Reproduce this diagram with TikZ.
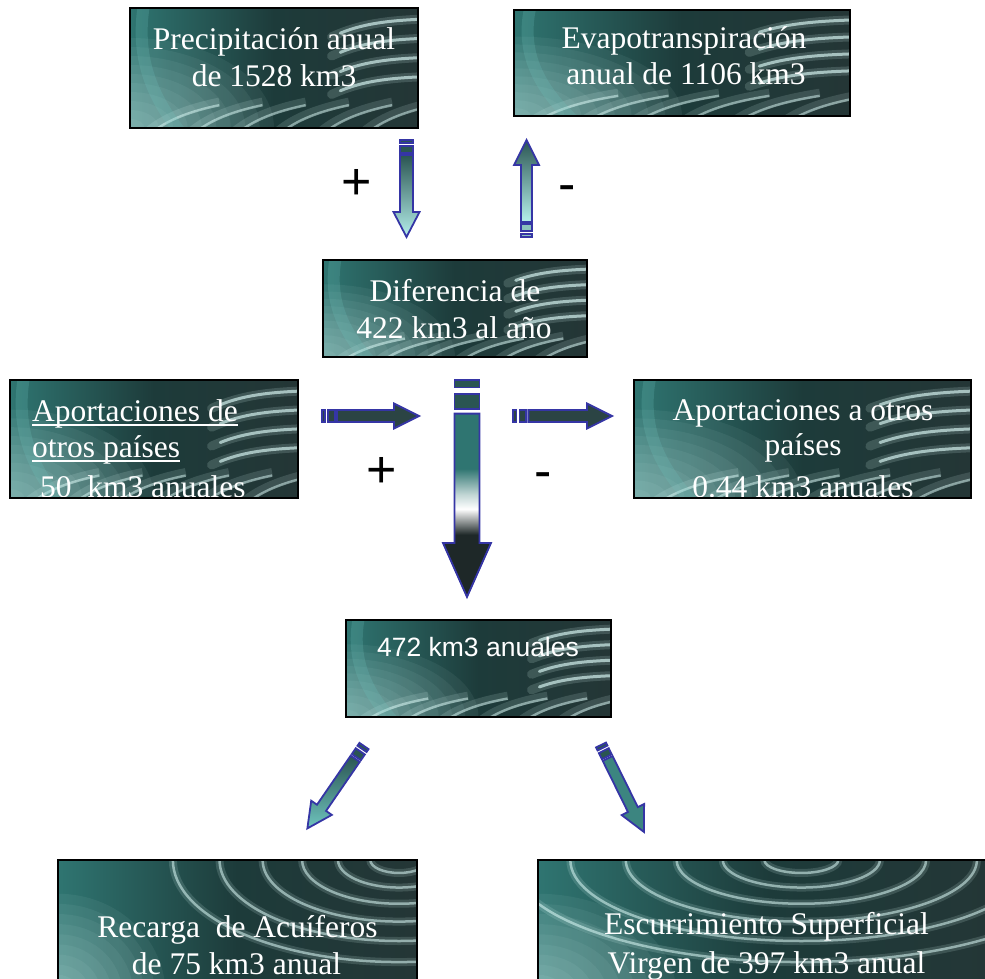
\documentclass[tikz,border=0pt]{standalone}
\usepackage{fontspec}
\newfontfamily\tnr{Liberation Serif}
\newfontfamily\arl{Liberation Sans}
\usetikzlibrary{fit}
\definecolor{tealA}{HTML}{2F7571}
\definecolor{darkA}{HTML}{1D3B3A}
\definecolor{darkB}{HTML}{243636}
\definecolor{darkX}{HTML}{1E2828}
\definecolor{streakc}{HTML}{DDFBF8}
\definecolor{tealL}{HTML}{6FC4BE}
\definecolor{arrblue}{HTML}{3535A5}
\definecolor{arrdark}{HTML}{2A5552}
\definecolor{arrdarkB}{HTML}{2B4444}
\definecolor{arrlight}{HTML}{B5F0EB}
\definecolor{arrmid}{HTML}{3C8580}
\pgfdeclarehorizontalshading{boxbg}{100bp}{color(0bp)=(tealA); color(25bp)=(tealA); color(50bp)=(darkA); color(75bp)=(darkB); color(100bp)=(darkB)}
\pgfdeclareverticalshading{bigarr}{100bp}{color(0bp)=(darkX); color(25bp)=(darkX); color(42bp)=(darkX); color(49bp)=(white); color(53bp)=(white!70!tealA); color(60bp)=(tealA); color(75bp)=(tealA); color(100bp)=(tealA)}
\newcommand{\uln}[1]{\setbox0=\hbox{#1}\rlap{\rule[-4.5pt]{\wd0}{1.8pt}}\box0}
% feather texture in a unit square (v downwards)
\newcommand{\feath}{%
 \shade[shading=boxbg] (0,0) rectangle (1,1);
 \foreach \i in {1,...,10} {\fill[streakc, opacity=0.06] (0,1) ellipse [x radius=0.05*\i, y radius=0.075*\i];}
 \foreach \v in {0.1,0.26,0.42,0.58} {
   \draw[streakc, line width=9pt, opacity=0.16, line cap=round] (0.7,\v+0.14) .. controls (0.8,\v+0.03) and (0.9,\v) .. (1.05,\v-0.01);
   \draw[streakc, line width=3pt, opacity=0.65, line cap=round] (0.73,\v+0.11) .. controls (0.82,\v+0.02) and (0.92,\v) .. (1.05,\v-0.01);}
 \foreach \u in {0.05,0.2,0.35,0.5,0.65,0.8} {
   \draw[streakc, line width=8pt, opacity=0.14] (\u,1.05) .. controls (\u+0.06,0.92) and (\u+0.14,0.84) .. (\u+0.26,0.78);
   \draw[streakc, line width=2.5pt, opacity=0.5] (\u+0.02,1.05) .. controls (\u+0.08,0.93) and (\u+0.16,0.86) .. (\u+0.26,0.81);}
 \draw[tealL, line width=12pt, opacity=0.22] (0.05,-0.05) .. controls (0.02,0.35) and (0.06,0.7) .. (0.18,1.05);
}
% ripple texture, centre u = #1
\newcommand{\ripp}[1]{%
 \shade[shading=boxbg] (0,0) rectangle (1,1);
 \foreach \i in {1,...,10} {\fill[streakc, opacity=0.06] (0,1) ellipse [x radius=0.03*\i, y radius=0.075*\i];}
 \foreach \r in {0.08,0.17,0.27,0.38,0.5,0.63} {
   \draw[streakc, line width=8pt, opacity=0.15] (#1,0) ellipse [x radius=\r, y radius=1.2*\r];
   \draw[streakc, line width=2.5pt, opacity=0.55] (#1,0) ellipse [x radius=\r, y radius=1.2*\r];}
}
% box: name, x1, y1, x2, y2, texture, text
\newcommand{\wbox}[7]{%
 \coordinate (#1-nw) at (#2,#3);
 \coordinate (#1-se) at (#4,#5);
 \begin{scope}
  \clip (#1-nw) rectangle (#1-se);
  \begin{scope}[shift={(#2,#3)}, x={({(#4-#2)*1pt},0pt)}, y={(0pt,{(#3-#5)*1pt})}]
   #6
  \end{scope}
  #7
 \end{scope}
 \node[boxframe, fit=(#1-nw)(#1-se)] (#1) {};
}
% block arrow: fill opts, tail x, tail y, angle, length, shaft w, head w, head len, stripe fill
\newcommand{\blk}[9]{%
 \begin{scope}[shift={(#2,#3)}, rotate=#4]
  \path[arrline, fill=#9] (0,{-#6/2}) rectangle ({0.035*#5},{#6/2});
  \path[arrline, fill=#9] ({0.065*#5},{-#6/2}) rectangle ({0.135*#5},{#6/2});
  \path[arrline, #1] ({0.155*#5},{-#6/2}) -- ({#5-#8},{-#6/2}) -- ({#5-#8},{-#7/2}) -- (#5,0) -- ({#5-#8},{#7/2}) -- ({#5-#8},{#6/2}) -- ({0.155*#5},{#6/2}) -- cycle;
 \end{scope}}
\begin{document}
\begin{tikzpicture}[x=1pt,y=-1pt,
  boxframe/.style={draw=black, line width=1.6pt, inner sep=0pt},
  tline/.style={text=white, font=\tnr\fontsize{31.5}{36}\selectfont, inner sep=0pt, anchor=base},
  lline/.style={tline, anchor=base west},
  sline/.style={text=white, font=\arl\fontsize{26.5}{30}\selectfont, inner sep=0pt, anchor=base},
  sign/.style={font=\arl\fontsize{52}{52}\selectfont, inner sep=0pt, anchor=base},
  arrline/.style={draw=arrblue, line width=1.8pt, line join=miter}]
\useasboundingbox (0,0) rectangle (985,979);

\wbox{prec}{130}{8}{418}{128}{\feath}{%
  \node[tline] (prec-1) at (274,49.5) {Precipitación anual};
  \node[tline] (prec-2) at (274,87) {de 1528 km3};}
\wbox{evap}{514}{10}{850}{116}{\feath}{%
  \node[tline] (evap-1) at (684,48.7) {Evapotranspiración};
  \node[tline] (evap-2) at (686,85) {anual de 1106 km3};}
\wbox{dif}{323}{260}{587}{357}{\feath}{%
  \node[tline] (dif-1) at (455,301) {Diferencia de};
  \node[tline] (dif-2) at (454,338) {422 km3 al año};}
\wbox{apde}{10}{380}{298}{498}{\feath}{%
  \node[lline] (apde-1) at (32,421) {\uln{Aportaciones de}};
  \node[lline] (apde-2) at (32,457) {\uln{otros países}};
  \node[lline] (apde-3) at (32,497) {\ 50\ \ km3 anuales};}
\wbox{apa}{634}{380}{971}{498}{\feath}{%
  \node[tline] (apa-1) at (803,420) {Aportaciones a otros};
  \node[tline] (apa-2) at (803,455) {países};
  \node[tline] (apa-3) at (803,497) {0.44 km3 anuales};}
\wbox{tot}{346}{620}{611}{717}{\feath}{%
  \node[sline] (tot-1) at (478,656) {472 km3 anuales};}
\wbox{rec}{58}{860}{417}{995}{\ripp{0.95}}{%
  \node[tline] (rec-1) at (237.5,937) {Recarga\ \ de Acuíferos};
  \node[tline] (rec-2) at (236.5,974) {de 75 km3 anual};}
\wbox{esc}{538}{860}{1000}{995}{\ripp{0.57}}{%
  \node[tline] (esc-1) at (766.5,934) {Escurrimiento Superficial};
  \node[tline] (esc-2) at (766.5,973) {Virgen de 397 km3 anual};}

% arrows
\blk{top color=arrdark, bottom color=arrlight}{406.5}{140}{-90}{97}{13}{26}{25}{arrdark}
\blk{top color=arrdark, bottom color=arrlight}{526.5}{237}{90}{97}{11}{25}{25}{arrlight!70!arrdark}
\blk{fill=arrdarkB}{322}{416}{0}{97}{12}{25}{25}{arrdarkB}
\blk{fill=arrdarkB}{513}{416}{0}{99}{12}{25}{25}{arrdarkB}
\blk{shading=bigarr}{467}{380}{-90}{217}{25}{48}{54}{arrdark}
\blk{top color=arrdark, bottom color=tealL}{364}{746}{-124.5}{100}{11}{25}{25}{arrdark}
\blk{fill=arrmid}{601}{745}{-63.7}{97}{11}{25}{25}{arrdark}

% signs
\node[sign] (plus1) at (357,199) {+};
\node[sign] (minus1) at (567,201) {-};
\node[sign] (plus2) at (382,487) {+};
\node[sign] (minus2) at (543,488) {-};
\end{tikzpicture}
\end{document}
